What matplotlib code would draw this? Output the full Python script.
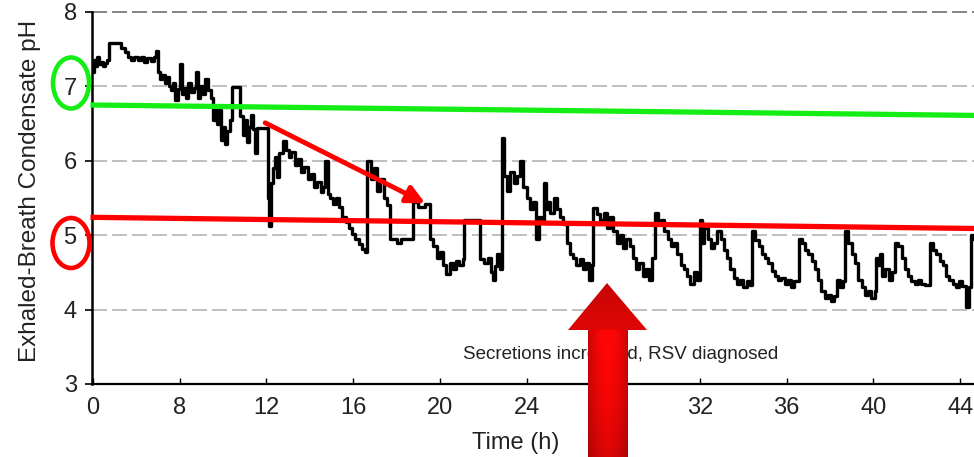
import numpy as np
import matplotlib
matplotlib.use("Agg")
import matplotlib.pyplot as plt
from matplotlib.patches import Ellipse, Polygon

# time axis position (h on the printed axis; leftmost tick is printed as "0")
TIME_H = [
    4.00, 4.05, 4.12, 4.20, 4.28, 4.36, 4.45, 4.55, 4.65, 4.75,
    5.30, 5.45, 5.60, 5.75, 5.90, 6.05, 6.20, 6.35, 6.50, 6.65,
    6.80, 6.90, 7.00, 7.10, 7.20, 7.30, 7.40, 7.50, 7.60, 7.70,
    7.80, 7.90, 8.00, 8.08, 8.20, 8.30, 8.40, 8.50, 8.65, 8.75,
    8.85, 8.95, 9.05, 9.15, 9.30, 9.45, 9.55, 9.62, 9.70, 9.80,
    9.90, 10.00, 10.10, 10.20, 10.30, 10.42, 10.78, 10.90, 11.00, 11.10,
    11.20, 11.30, 11.40, 11.48, 11.55, 12.05, 12.10, 12.20, 12.30, 12.40,
    12.50, 12.60, 12.75, 12.90, 13.05, 13.15, 13.30, 13.45, 13.60, 13.75,
    13.90, 14.05, 14.20, 14.35, 14.50, 14.62, 14.72, 14.82, 14.95, 15.07,
    15.20, 15.35, 15.50, 15.65, 15.80, 15.95, 16.10, 16.25, 16.40, 16.55,
    16.65, 16.80, 16.95, 17.10, 17.25, 17.40, 17.55, 17.70, 18.00, 18.20,
    18.76, 19.00, 19.30, 19.55, 19.70, 19.85, 20.00, 20.15, 20.30, 20.45,
    20.60, 20.75, 20.90, 21.05, 21.10, 21.85, 22.05, 22.20, 22.35, 22.45,
    22.55, 22.65, 22.78, 22.85, 22.95, 23.10, 23.25, 23.40, 23.55, 23.70,
    23.85, 24.00, 24.15, 24.30, 24.45, 24.55, 24.65, 24.80, 24.90, 25.00,
    25.10, 25.25, 25.40, 25.55, 25.70, 25.85, 26.00, 26.15, 26.30, 26.45,
    26.60, 26.75, 26.90, 27.00, 27.08, 27.25, 27.40, 27.55, 27.70, 27.85,
    28.00, 28.15, 28.30, 28.45, 28.60, 28.75, 28.90, 29.05, 29.20, 29.35,
    29.50, 29.65, 29.80, 29.93, 30.05, 30.20, 30.35, 30.50, 30.65, 30.80,
    30.95, 31.10, 31.25, 31.40, 31.55, 31.70, 31.85, 32.00, 32.10, 32.20,
    32.35, 32.50, 32.65, 32.80, 32.95, 33.10, 33.25, 33.40, 33.55, 33.70,
    33.85, 34.00, 34.15, 34.30, 34.40, 34.55, 34.70, 34.85, 35.00, 35.15,
    35.30, 35.45, 35.60, 35.75, 35.90, 36.05, 36.20, 36.35, 36.55, 36.70,
    36.85, 37.00, 37.15, 37.30, 37.45, 37.60, 37.75, 37.90, 38.05, 38.20,
    38.30, 38.45, 38.60, 38.70, 38.85, 39.00, 39.15, 39.30, 39.45, 39.60,
    39.75, 39.90, 40.05, 40.10, 40.20, 40.30, 40.40, 40.55, 40.70, 40.85,
    41.00, 41.15, 41.30, 41.45, 41.60, 41.75, 41.90, 42.05, 42.20, 42.40,
    42.60, 42.75, 42.90, 43.05, 43.20, 43.35, 43.50, 43.65, 43.80, 43.95,
    44.10, 44.25, 44.40, 44.50, 44.65,
]
PH = [
    7.20, 7.35, 7.28, 7.40, 7.30, 7.33, 7.27, 7.32, 7.36, 7.58,
    7.52, 7.46, 7.40, 7.36, 7.40, 7.35, 7.40, 7.33, 7.38, 7.34,
    7.40, 7.47, 7.20, 7.10, 7.15, 7.04, 7.12, 7.00, 6.95, 7.05,
    6.82, 6.97, 7.30, 6.90, 6.98, 6.85, 7.05, 6.92, 6.98, 7.20,
    6.85, 7.00, 6.90, 7.10, 6.95, 6.85, 6.55, 6.72, 6.50, 6.68,
    6.28, 6.45, 6.23, 6.40, 6.55, 6.99, 6.60, 6.35, 6.55, 6.25,
    6.45, 6.62, 6.43, 6.10, 6.44, 5.50, 5.13, 5.70, 5.90, 6.05,
    5.78, 6.10, 6.27, 6.15, 6.05, 6.12, 5.95, 6.02, 5.85, 5.92,
    5.75, 5.82, 5.65, 5.72, 5.58, 5.65, 6.00, 5.55, 5.50, 5.42,
    5.50, 5.38, 5.25, 5.18, 5.10, 5.02, 4.95, 4.88, 4.82, 4.78,
    6.00, 5.75, 5.90, 5.60, 5.75, 5.50, 5.40, 4.95, 4.90, 4.95,
    5.45, 5.38, 5.42, 4.95, 4.85, 4.70, 4.78, 4.60, 4.48, 4.62,
    4.55, 4.65, 4.60, 4.68, 5.20, 4.68, 4.62, 4.70, 4.50, 4.40,
    4.58, 4.75, 4.55, 6.30, 5.80, 5.60, 5.85, 5.70, 5.80, 6.00,
    5.65, 5.50, 5.35, 5.45, 4.95, 5.25, 5.20, 5.70, 5.35, 5.45,
    5.30, 5.50, 5.35, 5.25, 5.15, 4.90, 4.75, 4.70, 4.60, 4.68,
    4.55, 4.62, 4.40, 4.60, 5.37, 5.28, 5.20, 5.30, 5.10, 5.25,
    5.05, 4.90, 5.00, 4.83, 4.95, 4.85, 4.70, 4.55, 4.62, 4.45,
    4.55, 4.40, 4.70, 5.30, 5.15, 5.20, 5.05, 4.95, 4.85, 4.90,
    4.75, 4.60, 4.55, 4.45, 4.35, 4.50, 4.40, 5.20, 4.90, 5.10,
    4.95, 4.83, 4.90, 5.06, 4.95, 4.80, 4.70, 4.55, 4.43, 4.35,
    4.40, 4.30, 4.38, 4.33, 5.06, 4.93, 4.85, 4.75, 4.70, 4.62,
    4.52, 4.45, 4.40, 4.43, 4.35, 4.40, 4.30, 4.38, 4.95, 4.90,
    4.80, 4.75, 4.65, 4.55, 4.40, 4.25, 4.15, 4.20, 4.12, 4.18,
    4.40, 4.30, 4.38, 5.06, 4.90, 4.75, 4.62, 4.40, 4.30, 4.20,
    4.25, 4.15, 4.25, 4.70, 4.60, 4.75, 4.45, 4.55, 4.40, 4.50,
    4.90, 4.85, 4.70, 4.55, 4.45, 4.38, 4.35, 4.40, 4.35, 4.33,
    4.90, 4.80, 4.75, 4.65, 4.60, 4.45, 4.40, 4.35, 4.30, 4.38,
    4.32, 4.03, 4.30, 5.00, 4.95,
]

X_TICKS = [4, 8, 12, 16, 20, 24, 28, 32, 36, 40, 44]
X_TICK_LABELS = ["0", "8", "12", "16", "20", "24", "28", "32", "36", "40", "44"]
Y_TICKS = [3, 4, 5, 6, 7, 8]

# overlay annotations (drawn over the original figure)
GREEN_LINE_T = [4.0, 44.65]
GREEN_LINE_PH = [6.75, 6.61]
RED_LINE_T = [4.0, 44.65]
RED_LINE_PH = [5.24, 5.09]
TREND_START = (11.94, 6.51)
TREND_END = (19.32, 5.43)
NOTE = "Secretions increased, RSV diagnosed"

FONT = "Liberation Sans"
GREEN = "#14ee14"
RED = "#ff0000"

W, H = 974, 457
fig = plt.figure(figsize=(W / 100, H / 100), dpi=100)
fig.patch.set_facecolor("white")

ax = fig.add_axes([92 / W, 1 - 384 / H, (W - 92) / W, 372 / H])
ax.set_xlim(3.95, 44.64)
ax.set_ylim(3, 8)

for v in [4, 5, 6, 7]:
    ax.axhline(v, color="#b4b4b4", lw=1.2, ls=(0, (9, 3)), zorder=1)
ax.axhline(8, color="#707070", lw=1.2, ls=(0, (9, 3)), zorder=1, clip_on=False)

ax.step(TIME_H, PH, where="post", color="black", lw=2.4, zorder=3)

ax.plot(GREEN_LINE_T, GREEN_LINE_PH, color=GREEN, lw=3.8, zorder=4, clip_on=False)
ax.plot(RED_LINE_T, RED_LINE_PH, color=RED, lw=3.8, zorder=4, clip_on=False)
ax.annotate(
    "",
    xy=TREND_END,
    xytext=TREND_START,
    arrowprops=dict(arrowstyle="-|>,head_length=0.9,head_width=0.45", lw=3.5,
                    color=RED, shrinkA=0, shrinkB=0, mutation_scale=12),
    zorder=5,
)

ax.text(28.36, 3.39, NOTE, ha="center", va="center", fontsize=13.5,
        fontfamily=FONT, color="#222222", zorder=2)

for side in ("top", "right"):
    ax.spines[side].set_visible(False)
ax.spines["left"].set_linewidth(1.8)
ax.spines["bottom"].set_linewidth(1.6)

ax.set_xticks(X_TICKS)
ax.set_xticklabels(X_TICK_LABELS)
ax.set_yticks(Y_TICKS)
ax.tick_params(axis="x", direction="in", length=4, width=1, pad=9,
               labelsize=17, labelcolor="#222222")
ax.tick_params(axis="y", direction="out", length=5, width=1.2, pad=6,
               labelsize=17, labelcolor="#222222")
for lab in ax.get_xticklabels() + ax.get_yticklabels():
    lab.set_fontfamily(FONT)

fig.text(30 / W, 1 - 191 / H, "Exhaled-Breath Condensate pH", rotation=90,
         ha="center", va="center", fontsize=17.5, fontfamily=FONT, color="#222222")
fig.text(516 / W, 1 - 443 / H, "Time (h)", ha="center", va="center",
         fontsize=17, fontfamily=FONT, color="#222222")

# overlay in pixel coordinates for circles and the big arrow
ov = fig.add_axes([0, 0, 1, 1], zorder=10)
ov.set_xlim(0, W)
ov.set_ylim(H, 0)
ov.axis("off")
ov.patch.set_alpha(0)

ov.add_patch(Ellipse((71, 83), 36, 51, fill=False, ec=GREEN, lw=3.3))
ov.add_patch(Ellipse((71, 243), 37, 50, fill=False, ec=RED, lw=3.3))

tip_x, tip_y = 607, 283
head_y = 330
arrow_pts = [(tip_x, tip_y), (647, head_y), (628, head_y), (628, H + 5),
             (588, H + 5), (588, head_y), (568, head_y)]
poly = Polygon(arrow_pts, closed=True, fc="none", ec="none")
ov.add_patch(poly)

gx = np.linspace(568, 647, 80)
gy = np.linspace(tip_y, H + 5, 180)
XX, YY = np.meshgrid(gx, gy)
d = np.clip(np.abs(XX - 608) / 20, 0, 1)
shaft = (1.0 - 0.22 * d ** 2) * (1 - 0.15 * np.clip((YY - head_y) / 127, 0, 1) ** 2)
head = 0.78 + 0.1 * np.clip((YY - tip_y) / (head_y - tip_y), 0, 1)
r = np.where(YY < head_y, head, shaft)
img = np.zeros(XX.shape + (3,))
img[..., 0] = r
img[..., 1] = 0.02
img[..., 2] = 0.02
im = ov.imshow(img, extent=(568, 647, H + 5, tip_y), origin="upper",
               interpolation="bilinear", aspect="auto")
im.set_clip_path(poly)
ov.set_xlim(0, W)
ov.set_ylim(H, 0)

fig.savefig("out.png", dpi=100)
